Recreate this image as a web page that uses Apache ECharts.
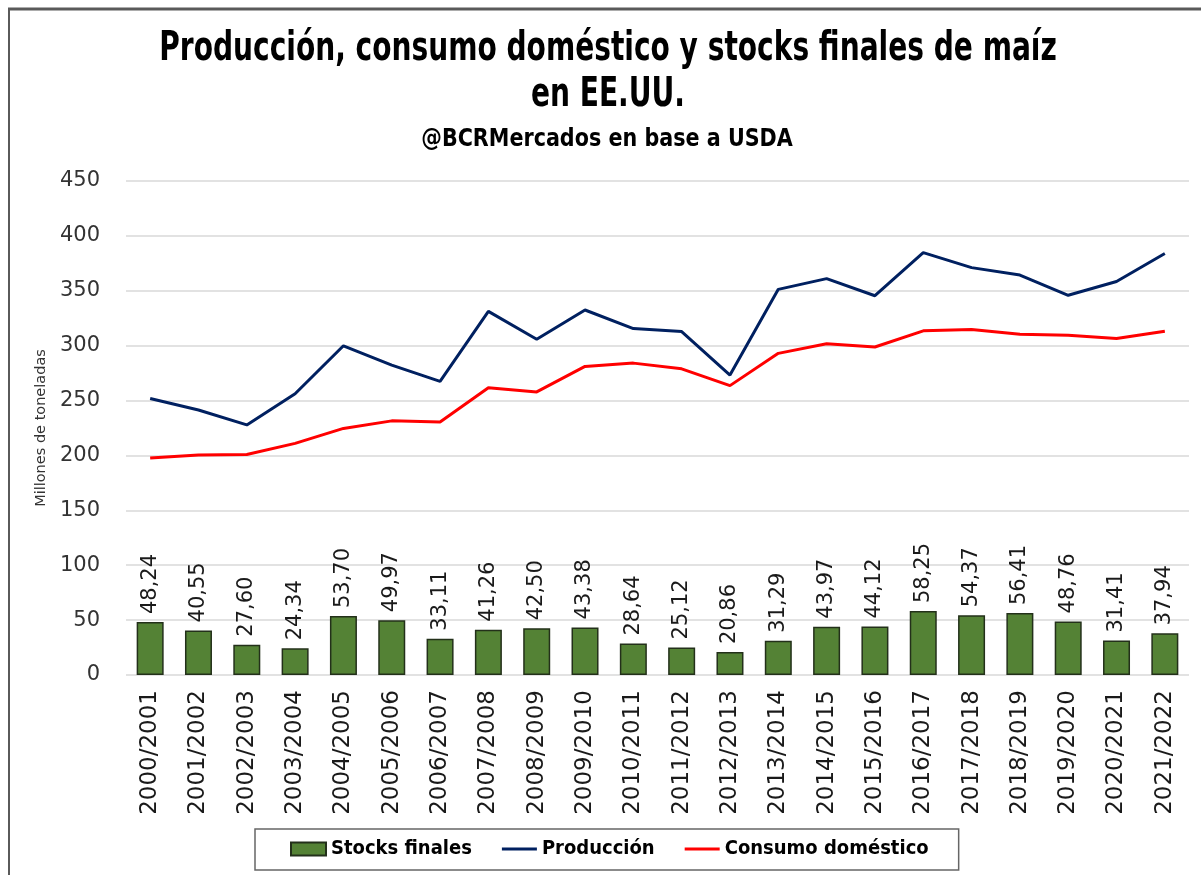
<!DOCTYPE html>
<html>
<head>
<meta charset="utf-8">
<script src="https://cdn.jsdelivr.net/npm/echarts@6/dist/echarts.min.js"></script>
<style>
html,body{margin:0;padding:0;background:#fff;}
#chart{width:1201px;height:875px;}
</style>
</head>
<body>
<div id="chart"></div>
<script>
const categories = ['2000/2001','2001/2002','2002/2003','2003/2004','2004/2005','2005/2006','2006/2007','2007/2008','2008/2009','2009/2010','2010/2011','2011/2012','2012/2013','2013/2014','2014/2015','2015/2016','2016/2017','2017/2018','2018/2019','2019/2020','2020/2021','2021/2022'];
const stocksFinales = [48.24,40.55,27.60,24.34,53.70,49.97,33.11,41.26,42.50,43.38,28.64,25.12,20.86,31.29,43.97,44.12,58.25,54.37,56.41,48.76,31.41,37.94];
const produccion = [251.9,241.4,227.8,256.2,299.9,282.3,267.5,331.2,305.9,332.5,315.6,312.8,273.2,351.3,361.1,345.5,384.8,371.1,364.3,345.9,358.4,383.9];
const consumoDomestico = [197.6,200.4,200.8,211.0,224.6,231.5,230.4,261.6,257.9,281.1,284.1,278.9,263.6,293.0,301.8,298.8,313.5,314.7,310.5,309.5,306.5,313.2];
const yTicks = {min: 0, max: 450, interval: 50};
const titleLines = ['Producción, consumo doméstico y stocks finales de maíz', 'en EE.UU.'];
const subtitle = '@BCRMercados en base a USDA';

const chart = echarts.init(document.getElementById('chart'));
const baseFont = "'DejaVu Sans', sans-serif";
const condFont = "'DejaVu Sans Condensed', 'Liberation Sans', sans-serif";
const lineIcon = 'path://M0,0 L0,0 M0,5 L35,5 L35,8 L0,8 Z M35,13 L35,13';

chart.setOption({
  backgroundColor: '#ffffff',
  animation: false,
  graphic: [
    {type: 'line', shape: {x1: 8, y1: 9, x2: 1201, y2: 9}, style: {stroke: '#5a5a5a', lineWidth: 3}},
    {type: 'line', shape: {x1: 9, y1: 8, x2: 9, y2: 875}, style: {stroke: '#5a5a5a', lineWidth: 2}},
    {type: 'text', x: 608, y: 50, scaleX: 0.78,
      style: {text: titleLines[0], font: "bold 40px " + condFont, fill: '#000', textAlign: 'center', textVerticalAlign: 'middle'}},
    {type: 'text', x: 608, y: 96, scaleX: 0.78,
      style: {text: titleLines[1], font: "bold 40px " + condFont, fill: '#000', textAlign: 'center', textVerticalAlign: 'middle'}},
    {type: 'text', x: 607, y: 139, scaleX: 0.92,
      style: {text: subtitle, font: "bold 25px " + condFont, fill: '#000', textAlign: 'center', textVerticalAlign: 'middle'}}
  ],
  legend: {
    left: 255,
    top: 829,
    padding: [10, 30, 11, 35],
    itemGap: 30,
    itemWidth: 35,
    itemHeight: 13,
    borderColor: '#666',
    borderWidth: 1.5,
    textStyle: {fontFamily: condFont, fontWeight: 'bold', fontSize: 20, color: '#000'},
    data: [
      {name: 'Stocks finales', icon: 'rect'},
      {name: 'Producción', icon: lineIcon},
      {name: 'Consumo doméstico', icon: lineIcon}
    ]
  },
  grid: {left: 126, right: 12, top: 181, bottom: 200, containLabel: false},
  xAxis: {
    type: 'category',
    data: categories,
    axisLine: {show: false},
    axisTick: {show: false},
    axisLabel: {rotate: 90, margin: 15, fontFamily: baseFont, fontSize: 23, color: '#1a1a1a', interval: 0}
  },
  yAxis: {
    type: 'value',
    min: yTicks.min, max: yTicks.max, interval: yTicks.interval,
    name: 'Millones de toneladas',
    nameLocation: 'middle',
    nameGap: 76,
    nameTextStyle: {fontFamily: baseFont, fontSize: 14.5, color: '#333'},
    axisLine: {show: false},
    axisTick: {show: false},
    axisLabel: {margin: 26, fontFamily: baseFont, fontSize: 21, color: '#333'},
    splitLine: {lineStyle: {color: '#d9d9d9', width: 1.5}}
  },
  series: [
    {
      name: 'Stocks finales',
      type: 'bar',
      data: stocksFinales,
      barWidth: 27,
      itemStyle: {color: '#548235', borderColor: '#23301a', borderWidth: 1.5},
      label: {
        show: true, position: 'top', rotate: 90, align: 'left', verticalAlign: 'middle', distance: 8,
        fontFamily: baseFont, fontSize: 21, color: '#1a1a1a',
        formatter: p => p.value.toFixed(2).replace('.', ',')
      }
    },
    {
      name: 'Producción',
      type: 'line',
      data: produccion,
      symbol: 'none',
      lineStyle: {color: '#002060', width: 3},
      itemStyle: {color: '#002060'}
    },
    {
      name: 'Consumo doméstico',
      type: 'line',
      data: consumoDomestico,
      symbol: 'none',
      lineStyle: {color: '#ff0000', width: 3},
      itemStyle: {color: '#ff0000'}
    }
  ]
});
</script>
</body>
</html>
